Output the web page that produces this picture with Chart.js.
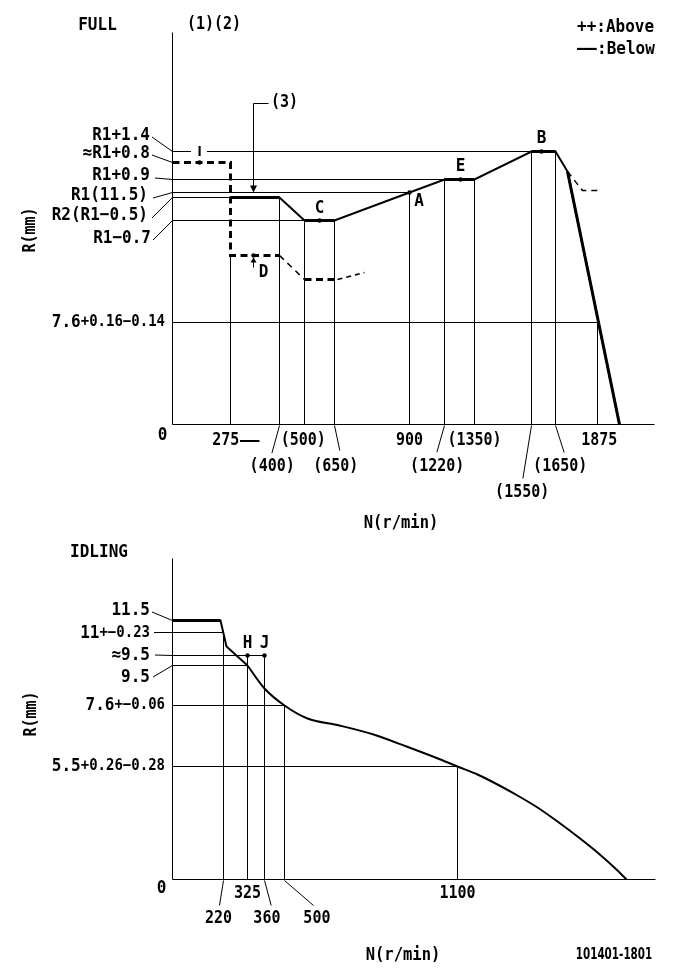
<!DOCTYPE html>
<html><head><meta charset="utf-8">
<script src="https://cdn.jsdelivr.net/npm/chart.js@4.4.0/dist/chart.umd.min.js"></script>
<style>
html,body{margin:0;padding:0;background:#fff;}
#wrap{position:relative;width:681px;height:979px;background:#fff;}
canvas{position:absolute;left:0;}
#c1{top:0;} #c2{top:530px;}
</style></head><body>
<div id="wrap"><canvas id="c1" width="681" height="530"></canvas><canvas id="c2" width="681" height="449"></canvas></div>
<script>
// ================= DATA : FULL (upper chart) =================
const fullTickN    = [275, 400, 500, 650, 900, 1220, 1350, 1550, 1650, 1875];          // r/min
const fullTickText = ['275', '(400)', '(500)', '(650)', '900', '(1220)', '(1350)', '(1550)', '(1650)', '1875'];
const fullTickTopR = [9.6, 11.0, 10.8, 10.8, 11.5, 12.4, 12.4, 12.9, 12.9, 7.6];      // guide line height (mm)
const fullTickAxis = ['y2', 'y', 'y', 'y', 'y', 'y', 'y', 'y', 'y', 'y'];
const fullLevelR    = [12.9, 12.3, 12.4, 11.5, 11.0, 10.8, 7.6];                        // R (mm), R1 = 11.5
const fullLevelText = ['R1+1.4', '≈R1+0.8', 'R1+0.9', 'R1(11.5)', 'R2(R1−0.5)', 'R1−0.7', '7.6'];
const fullLevelTol  = ['', '', '', '', '', '', '+0.16−0.14'];
const fullLevelEndN = [1550, 0, 1220, 900, 275, 500, 1875];
const fullLevelAxis = ['y', 'y2', 'y', 'y', 'y', 'y', 'y'];
const fullCurveN = [275, 400, 500, 650, 900, 1220, 1350, 1550, 1650, 1717, 1961];
const fullCurveR = [11.0, 11.0, 10.8, 10.8, 11.5, 12.4, 12.4, 12.9, 12.9, 12.53, 0];
const fullBelowN = [0, 275, 275, 400, 500, 661, 751];
const fullBelowR = [12.3, 12.3, 9.6, 9.6, 9.0, 9.0, 9.17];
const fullBelowTailN = [1717, 1797, 1884];
const fullBelowTailR = [12.53, 11.62, 11.62];
const fullPointName = ['I', 'D', 'C', 'A', 'E', 'B'];
const fullPointN    = [128, 333, 575, 900, 1292, 1595];
const fullPointR    = [12.3, 9.6, 10.8, 11.5, 12.4, 12.9];
const fullPointAxis = ['y2', 'y2', 'y', 'y', 'y', 'y'];

// ================= DATA : IDLING (lower chart) =================
const idleTickN    = [220, 325, 360, 500, 1100];
const idleTickText = ['220', '325', '360', '500', '1100'];
const idleTickTopR = [11.0, 9.5, 9.5, 7.6, 5.5];
const idleTickAxis = ['y', 'y2', 'y2', 'y', 'y'];
const idleLevelR    = [11.5, 11.0, 9.5, 9.5, 7.6, 5.5];
const idleLevelText = ['11.5', '11', '≈9.5', '9.5', '7.6', '5.5'];
const idleLevelTol  = ['', '+−0.23', '', '', '+−0.06', '+0.26−0.28'];
const idleLevelEndN = [0, 220, 360, 325, 500, 1100];
const idleLevelAxis = ['y', 'y', 'y2', 'y', 'y', 'y'];
const idleCurveN = [0, 206, 232, 325, 360, 500, 582, 693, 809, 925, 1040, 1100, 1169, 1239, 1308, 1378, 1447, 1516, 1586, 1655, 1688];
const idleCurveR = [11.5, 11.5, 10.36, 9.5, 8.42, 7.6, 7.17, 6.93, 6.61, 6.19, 5.73, 5.5, 5.10, 4.63, 4.09, 3.49, 2.82, 2.09, 1.29, 0.43, 0];
const idlePointName = ['H', 'J'];
const idlePointN    = [325, 360];
const idlePointR    = [9.5, 9.5];
const idlePointAxis = ['y2', 'y2'];

// ================= piecewise (not-to-scale) axis =================
class PiecewiseScale extends Chart.LinearScale {
  _dec(v) {
    const a = this.options.anchors, total = a[a.length - 1][1];
    let i = 1;
    while (i < a.length - 1 && v > a[i][0]) i++;
    const v0 = a[i - 1][0], o0 = a[i - 1][1], v1 = a[i][0], o1 = a[i][1];
    return (o0 + (v - v0) * (o1 - o0) / (v1 - v0)) / total;
  }
  getPixelForValue(value) {
    if (value === null || value === undefined || isNaN(value)) return NaN;
    return Math.floor(this.getPixelForDecimal(this._dec(value))) + 0.5;
  }
  getValueForPixel(pixel) {
    let d = (pixel - this._startPixel) / this._length;
    if (this._reversePixels) d = 1 - d;
    const a = this.options.anchors, total = a[a.length - 1][1], o = d * total;
    let i = 1;
    while (i < a.length - 1 && o > a[i][1]) i++;
    const v0 = a[i - 1][0], o0 = a[i - 1][1], v1 = a[i][0], o1 = a[i][1];
    return v0 + (o - o0) * (v1 - v0) / (o1 - o0);
  }
}
PiecewiseScale.id = 'piecewise';
PiecewiseScale.defaults = Chart.LinearScale.defaults;
Chart.register(PiecewiseScale);

// ================= helpers =================
const MONO = '"DejaVu Sans Mono", "Liberation Mono", monospace';
const xy = (xs, ys) => xs.map((x, i) => ({ x, y: ys[i] }));
function L(data, o) {
  return Object.assign({ data, borderColor: '#000', backgroundColor: '#000', borderWidth: 1, pointRadius: 0,
    pointHoverRadius: 0, pointBorderWidth: 0, fill: false, tension: 0, clip: false, showLine: true, yAxisID: 'y' }, o || {});
}
function drawText(ctx, s, x, y, o) {
  o = o || {};
  const size = o.size || 16;
  ctx.save();
  ctx.font = (o.weight || 'bold') + ' ' + size + 'px ' + (o.family || MONO);
  ctx.fillStyle = '#000'; ctx.textAlign = o.align || 'center'; ctx.textBaseline = 'middle';
  ctx.translate(x, y);
  if (o.rot) ctx.rotate(o.rot);
  ctx.scale(o.sx || 1, o.sy || 1.12);
  ctx.fillText(s, 0, 0);
  ctx.restore();
}
function textW(ctx, s, size) { ctx.save(); ctx.font = 'bold ' + size + 'px ' + MONO; const w = ctx.measureText(s).width; ctx.restore(); return w; }
function drawLevelLabel(ctx, main, tol, right, y) {
  if (tol) {
    drawText(ctx, tol, right, y, { size: 14, align: 'right' });
    drawText(ctx, main, right - textW(ctx, tol, 14), y, { align: 'right' });
  } else drawText(ctx, main, right, y, { align: 'right' });
}
function seg(ctx, x1, y1, x2, y2, w) {
  ctx.save(); ctx.strokeStyle = '#000'; ctx.lineWidth = w || 1;
  ctx.beginPath(); ctx.moveTo(x1, y1); ctx.lineTo(x2, y2); ctx.stroke(); ctx.restore();
}
function tri(ctx, p) {
  ctx.save(); ctx.fillStyle = '#000'; ctx.beginPath(); ctx.moveTo(p[0], p[1]); ctx.lineTo(p[2], p[3]); ctx.lineTo(p[4], p[5]);
  ctx.closePath(); ctx.fill(); ctx.restore();
}
function guideSets(levelR, levelEnd, levelAxis, tickN, tickTop, tickAxis, xmax, ymax) {
  const s = [];
  s.push(L([{ x: 0, y: 0 }, { x: xmax, y: 0 }]));
  s.push(L([{ x: 0, y: 0 }, { x: 0, y: ymax }]));
  levelR.forEach((r, i) => { if (levelEnd[i] > 0) s.push(L([{ x: 0, y: r }, { x: levelEnd[i], y: r }], { yAxisID: levelAxis[i] })); });
  tickN.forEach((n, i) => s.push(L([{ x: n, y: 0 }, { x: n, y: tickTop[i] }], { yAxisID: tickAxis[i] })));
  return s;
}
function pointSets(ns, rs, axes) {
  return ns.map((n, i) => L([{ x: n, y: rs[i] }], { yAxisID: axes[i], showLine: false, pointRadius: 2.2 }));
}

// ================= layout tables (drawing placement only) =================
const fullLevelLayout = [
  { right: 150, dy: -16.5, lead: [152, 2] },
  { right: 150, dy: -9.5, lead: [152, 2] },
  { right: 150, dy: -4.5, lead: [155, 3] },
  { right: 148, dy: 2.5, lead: [153, 3] },
  { right: 148, dy: 17.5, lead: [152, 3] },
  { right: 151, dy: 17.5, lead: [153, 2] },
  { right: 165, dy: -0.5 }
];
const fullRows = [16.5, 42.5, 68];
const fullTickLayout = [
  { row: 0, dx: -4.7, dash: true }, { row: 1, dx: -7.3, lead: [-7.6, 28.7] }, { row: 0, dx: -1.2 },
  { row: 1, dx: 1.3, lead: [5.3, 26] }, { row: 0, dx: 0 }, { row: 1, dx: -7.3, lead: [-7.6, 27.7] },
  { row: 0, dx: 0 }, { row: 2, dx: -9.3, lead: [-8.6, 54] }, { row: 1, dx: 4.7, lead: [8.7, 28] }, { row: 0, dx: 1.8 }
];
const fullPointLayout = [
  { dx: 0, dy: -10.5 }, { dx: 10, dy: 17 }, { dx: 0, dy: -12.5 }, { dx: 9.5, dy: 9 }, { dx: 0, dy: -13 }, { dx: 0, dy: -13.5 }
];
const idleLevelLayout = [
  { right: 150, dy: -10.5, lead: [152, 2] },
  { right: 150, dy: 0.5, lead: [154, -0.5] },
  { right: 150, dy: -0.5, lead: [155, 0] },
  { right: 150, dy: 11.5, lead: [153, 0] },
  { right: 165, dy: -0.5 },
  { right: 165, dy: -0.5 }
];
const idleRows = [14, 39.3];
const idleTickLayout = [
  { row: 1, dx: -5, lead: [-4, 26] }, { row: 0, dx: 0 }, { row: 1, dx: 2.4, lead: [6.7, 26] },
  { row: 1, dx: 32.4, lead: [29, 26] }, { row: 0, dx: 0 }
];

// ================= upper chart =================
const topSets = guideSets(fullLevelR, fullLevelEndN, fullLevelAxis, fullTickN, fullTickTopR, fullTickAxis, 2100, 15);
topSets.push(L(xy(fullCurveN, fullCurveR), { borderWidth: 2 }));
for (let i = 0; i < fullCurveN.length - 1; i++) {
  if (fullCurveR[i] === fullCurveR[i + 1] || i === fullCurveN.length - 2)
    topSets.push(L(xy(fullCurveN.slice(i, i + 2), fullCurveR.slice(i, i + 2)), { borderWidth: 3 }));
}
const below = xy(fullBelowN, fullBelowR);
topSets.push(L(below.slice(0, 4), { yAxisID: 'y2', borderWidth: 3, borderDash: [7, 4.5] }));
topSets.push(L(below.slice(3, 5), { yAxisID: 'y2', borderWidth: 1.5, borderDash: [6, 5] }));
topSets.push(L(below.slice(4, 6), { yAxisID: 'y2', borderWidth: 3, borderDash: [7, 4.5] }));
topSets.push(L(below.slice(5, 7), { yAxisID: 'y2', borderWidth: 1.5, borderDash: [5, 4] }));
topSets.push(L(xy(fullBelowTailN, fullBelowTailR), { borderWidth: 1.5, borderDash: [6, 5] }));
pointSets(fullPointN, fullPointR, fullPointAxis).forEach(d => topSets.push(d));

const topLabels = {
  id: 'topLabels',
  afterDatasetsDraw(chart) {
    const ctx = chart.ctx, X = chart.scales.x, Y = chart.scales.y, Y2 = chart.scales.y2;
    const sc = a => a === 'y2' ? Y2 : Y;
    const ax = X.getPixelForValue(0), ay = Y.getPixelForValue(0);
    fullLevelR.forEach((r, i) => {
      const ly = sc(fullLevelAxis[i]).getPixelForValue(r), lay = fullLevelLayout[i], ty = ly + lay.dy;
      drawLevelLabel(ctx, fullLevelText[i], fullLevelTol[i], lay.right, ty);
      if (lay.lead) seg(ctx, lay.lead[0], ty + lay.lead[1], ax, ly);
    });
    drawText(ctx, '0', ax - 10, ay + 10.5);
    fullTickN.forEach((n, i) => {
      const tx = X.getPixelForValue(n), T = fullTickLayout[i], ty = ay + fullRows[T.row];
      drawText(ctx, fullTickText[i], tx + T.dx, ty, { size: 15 });
      if (T.lead) seg(ctx, tx, ay + 1, tx + T.lead[0], ay + T.lead[1]);
      if (T.dash) seg(ctx, tx + 9.5, ty, tx + 29, ty, 2);
    });
    fullPointName.forEach((s, i) => {
      const px = X.getPixelForValue(fullPointN[i]), py = sc(fullPointAxis[i]).getPixelForValue(fullPointR[i]);
      const P = fullPointLayout[i];
      if (s === 'I') {
        ctx.save(); ctx.fillStyle = '#fff'; ctx.fillRect(px - 8.5, py + P.dy - 3, 16, 6); ctx.restore();
        drawText(ctx, 'I', px + P.dx, py + P.dy, { family: '"Liberation Sans", Arial, sans-serif', size: 15, sy: 1 });
      } else drawText(ctx, s, px + P.dx, py + P.dy);
    });
    // (3) arrow to the R2 plateau, at the D speed
    const xa = X.getPixelForValue(fullPointN[1]);
    const tip = Y.getPixelForValue(11.0) - 5;
    seg(ctx, xa, 103.5, xa, tip - 5);
    seg(ctx, xa, 103.5, xa + 15, 103.5);
    tri(ctx, [xa - 3.5, tip - 7, xa + 3.5, tip - 7, xa, tip]);
    drawText(ctx, '(3)', xa + 31, 103, { size: 15 });
    // D arrow
    const pd = Y2.getPixelForValue(fullPointR[1]);
    seg(ctx, xa, pd + 12, xa, pd + 5);
    tri(ctx, [xa - 3, pd + 7, xa + 3, pd + 7, xa, pd + 2]);
    // headers
    drawText(ctx, 'FULL', 97.5, 25);
    drawText(ctx, '(1)(2)', 214, 25, { size: 15 });
    drawText(ctx, '++:Above', 577, 27, { align: 'left' });
    drawText(ctx, '—', 577, 49, { align: 'left', sx: 2.05 });
    drawText(ctx, ':Below', 597, 49, { align: 'left' });
    drawText(ctx, 'N(r/min)', 401, 523.5, { size: 15.5 });
    drawText(ctx, 'R(mm)', 31, 230, { size: 15, rot: -Math.PI / 2 });
  }
};

new Chart(document.getElementById('c1'), {
  type: 'line',
  data: { datasets: topSets },
  options: {
    responsive: false, maintainAspectRatio: false, animation: false, devicePixelRatio: 1, events: [],
    layout: { padding: { left: 172, right: 27, top: 32, bottom: 106 } },
    plugins: { legend: { display: false }, tooltip: { enabled: false } },
    scales: {
      // the original drawing is not to scale: spacing between marked speeds / racks
      x: { type: 'piecewise', min: 0, max: 2100, display: false,
        anchors: [[0, 0], [275, 58.7], [400, 107.3], [500, 132.7], [650, 162.7], [900, 237.3], [1220, 272.3], [1350, 302], [1550, 359], [1650, 383], [1875, 425.7], [2100, 482]] },
      y: { type: 'piecewise', min: 0, max: 15, display: false,
        anchors: [[0, 0], [7.6, 101.7], [10.8, 204], [11.0, 227], [11.5, 231.7], [12.4, 244.7], [12.9, 273], [15, 392]] },
      y2: { type: 'piecewise', min: 0, max: 15, display: false,
        anchors: [[0, 0], [7.6, 101.7], [9.0, 144.7], [9.6, 168.3], [12.3, 261.7], [15, 392]] }
    }
  },
  plugins: [topLabels]
});

// ================= lower chart =================
const botSets = guideSets(idleLevelR, idleLevelEndN, idleLevelAxis, idleTickN, idleTickTopR, idleTickAxis, 1786, 14.2);
const idle = xy(idleCurveN, idleCurveR);
botSets.push(L(idle.slice(0, 4), { borderWidth: 2 }));
botSets.push(L(idle.slice(3), { borderWidth: 2, cubicInterpolationMode: 'monotone' }));
botSets.push(L(idle.slice(0, 2), { borderWidth: 3 }));
pointSets(idlePointN, idlePointR, idlePointAxis).forEach(d => botSets.push(d));

const botLabels = {
  id: 'botLabels',
  afterDatasetsDraw(chart) {
    const ctx = chart.ctx, X = chart.scales.x, Y = chart.scales.y, Y2 = chart.scales.y2;
    const sc = a => a === 'y2' ? Y2 : Y;
    const ax = X.getPixelForValue(0), ay = Y.getPixelForValue(0);
    idleLevelR.forEach((r, i) => {
      const ly = sc(idleLevelAxis[i]).getPixelForValue(r), lay = idleLevelLayout[i], ty = ly + lay.dy;
      drawLevelLabel(ctx, idleLevelText[i], idleLevelTol[i], lay.right, ty);
      if (lay.lead) seg(ctx, lay.lead[0], ty + lay.lead[1], ax, ly);
    });
    drawText(ctx, '0', ax - 11, ay + 9);
    idleTickN.forEach((n, i) => {
      const tx = X.getPixelForValue(n), T = idleTickLayout[i], ty = ay + idleRows[T.row];
      drawText(ctx, idleTickText[i], tx + T.dx, ty, { size: 15 });
      if (T.lead) seg(ctx, tx, ay + 1, tx + T.lead[0], ay + T.lead[1]);
    });
    idlePointName.forEach((s, i) => {
      const px = X.getPixelForValue(idlePointN[i]), py = sc(idlePointAxis[i]).getPixelForValue(idlePointR[i]);
      drawText(ctx, s, px, py - 12);
    });
    drawText(ctx, 'IDLING', 99, 22);
    drawText(ctx, 'N(r/min)', 403, 425, { size: 15.5 });
    drawText(ctx, '101401-1801', 614, 425, { size: 15, family: '"DejaVu Sans Condensed", "Liberation Sans Narrow", sans-serif', sx: 0.77, sy: 1.05 });
    drawText(ctx, 'R(mm)', 32, 184, { size: 15, rot: -Math.PI / 2 });
  }
};

new Chart(document.getElementById('c2'), {
  type: 'line',
  data: { datasets: botSets },
  options: {
    responsive: false, maintainAspectRatio: false, animation: false, devicePixelRatio: 1, events: [],
    layout: { padding: { left: 172, right: 26, top: 28, bottom: 100 } },
    plugins: { legend: { display: false }, tooltip: { enabled: false } },
    scales: {
      x: { type: 'piecewise', min: 0, max: 1786, display: false,
        anchors: [[0, 0], [220, 51.3], [325, 75.3], [360, 92.3], [500, 112.3], [1100, 285.3], [1786, 483]] },
      y: { type: 'piecewise', min: 0, max: 14.2, display: false,
        anchors: [[0, 0], [5.5, 112.3], [7.6, 173.5], [9.5, 214], [11.0, 247], [11.5, 259], [14.2, 321]] },
      y2: { type: 'piecewise', min: 0, max: 14.2, display: false,
        anchors: [[0, 0], [9.5, 223.3], [14.2, 321]] }
    }
  },
  plugins: [botLabels]
});
</script>
</body></html>
